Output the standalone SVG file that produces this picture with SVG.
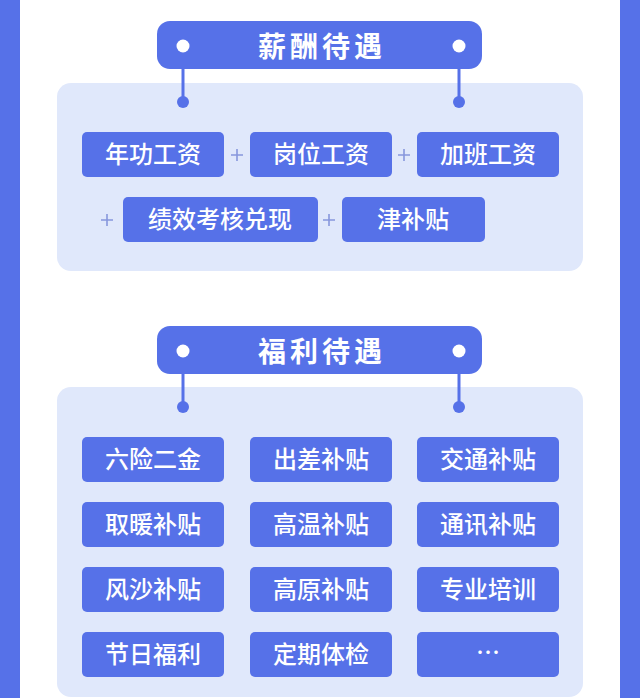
<svg xmlns="http://www.w3.org/2000/svg" width="640" height="698" viewBox="0 0 640 698">
<defs>
<style>
.bg{fill:#ffffff}
.bar{fill:#5671e8}
.panel{fill:#e0e8fb}
.pill{fill:#5671e8}
.box{fill:#5671e8}
.dotw{fill:#ffffff}
.dotb{fill:#5671e8}
.line{stroke:#5671e8;stroke-width:3;fill:none}
.plus{stroke:#8797dd;stroke-width:1.6;fill:none}
.title{font-family:"Noto Sans CJK SC","Noto Sans",sans-serif;font-weight:700;font-size:28px;fill:#ffffff;text-anchor:middle;letter-spacing:4px}
.lbl{font-family:"Noto Sans CJK SC","Noto Sans",sans-serif;font-weight:500;font-size:24px;fill:#ffffff;text-anchor:middle}
</style>
</defs>
<rect class="bg" x="0" y="0" width="640" height="698"/>
<rect class="bar" x="0" y="0" width="20" height="698"/>
<rect class="bar" x="620" y="0" width="20" height="698"/>

<g id="panel1"><rect class="panel" x="57" y="83" width="526" height="188" rx="14"/></g>
<g id="panel2"><rect class="panel" x="57" y="387" width="526" height="310" rx="14"/></g>

<g id="connectors">
<line class="line" x1="183" y1="66" x2="183" y2="102"/>
<line class="line" x1="459" y1="66" x2="459" y2="102"/>
<circle class="dotb" cx="183" cy="102" r="6"/>
<circle class="dotb" cx="459" cy="102" r="6"/>
<line class="line" x1="183" y1="370" x2="183" y2="407"/>
<line class="line" x1="459" y1="370" x2="459" y2="407"/>
<circle class="dotb" cx="183" cy="407" r="6"/>
<circle class="dotb" cx="459" cy="407" r="6"/>
<g id="plus-signs">
<path class="plus" d="M231 155h12M237 149v12"/>
<path class="plus" d="M398 155h12M404 149v12"/>
<path class="plus" d="M101 220h12M107 214v12"/>
<path class="plus" d="M323 220h12M329 214v12"/>
</g>
</g>

<g id="title1">
<rect class="pill" x="157" y="21" width="325" height="48" rx="13"/>
<circle class="dotw" cx="183" cy="46" r="6.5"/>
<circle class="dotw" cx="459" cy="46" r="6.5"/>
<text class="title" x="322" y="57">薪酬待遇</text>
</g>

<g id="s1">
<g id="n-nggz"><rect class="box" x="82" y="132" width="142" height="45" rx="5"/><text class="lbl" x="153" y="163">年功工资</text></g>
<g id="n-gwgz"><rect class="box" x="250" y="132" width="142" height="45" rx="5"/><text class="lbl" x="321" y="163">岗位工资</text></g>
<g id="n-jbgz"><rect class="box" x="417" y="132" width="142" height="45" rx="5"/><text class="lbl" x="488" y="163">加班工资</text></g>
<g id="n-jxkh"><rect class="box" x="123" y="197" width="195" height="45" rx="5"/><text class="lbl" x="220" y="228">绩效考核兑现</text></g>
<g id="n-jbt"><rect class="box" x="342" y="197" width="143" height="45" rx="5"/><text class="lbl" x="413" y="228">津补贴</text></g>
</g>

<g id="title2">
<rect class="pill" x="157" y="326" width="325" height="48" rx="13"/>
<circle class="dotw" cx="183" cy="351" r="6.5"/>
<circle class="dotw" cx="459" cy="351" r="6.5"/>
<text class="title" x="322" y="362">福利待遇</text>
</g>

<g id="s2">
<g id="n-lxej"><rect class="box" x="82" y="437" width="142" height="45" rx="5"/><text class="lbl" x="153" y="468">六险二金</text></g>
<g id="n-ccbt"><rect class="box" x="250" y="437" width="142" height="45" rx="5"/><text class="lbl" x="321" y="468">出差补贴</text></g>
<g id="n-jtbt"><rect class="box" x="417" y="437" width="142" height="45" rx="5"/><text class="lbl" x="488" y="468">交通补贴</text></g>
<g id="n-qnbt"><rect class="box" x="82" y="502" width="142" height="45" rx="5"/><text class="lbl" x="153" y="533">取暖补贴</text></g>
<g id="n-gwbt"><rect class="box" x="250" y="502" width="142" height="45" rx="5"/><text class="lbl" x="321" y="533">高温补贴</text></g>
<g id="n-txbt"><rect class="box" x="417" y="502" width="142" height="45" rx="5"/><text class="lbl" x="488" y="533">通讯补贴</text></g>
<g id="n-fsbt"><rect class="box" x="82" y="567" width="142" height="45" rx="5"/><text class="lbl" x="153" y="598">风沙补贴</text></g>
<g id="n-gybt"><rect class="box" x="250" y="567" width="142" height="45" rx="5"/><text class="lbl" x="321" y="598">高原补贴</text></g>
<g id="n-zypx"><rect class="box" x="417" y="567" width="142" height="45" rx="5"/><text class="lbl" x="488" y="598">专业培训</text></g>
<g id="n-jrfl"><rect class="box" x="82" y="632" width="142" height="45" rx="5"/><text class="lbl" x="153" y="663">节日福利</text></g>
<g id="n-dqtj"><rect class="box" x="250" y="632" width="142" height="45" rx="5"/><text class="lbl" x="321" y="663">定期体检</text></g>
<g id="n-more"><rect class="box" x="417" y="632" width="142" height="45" rx="5"/><text class="lbl" x="488" y="661">…</text></g>
</g>
</svg>
